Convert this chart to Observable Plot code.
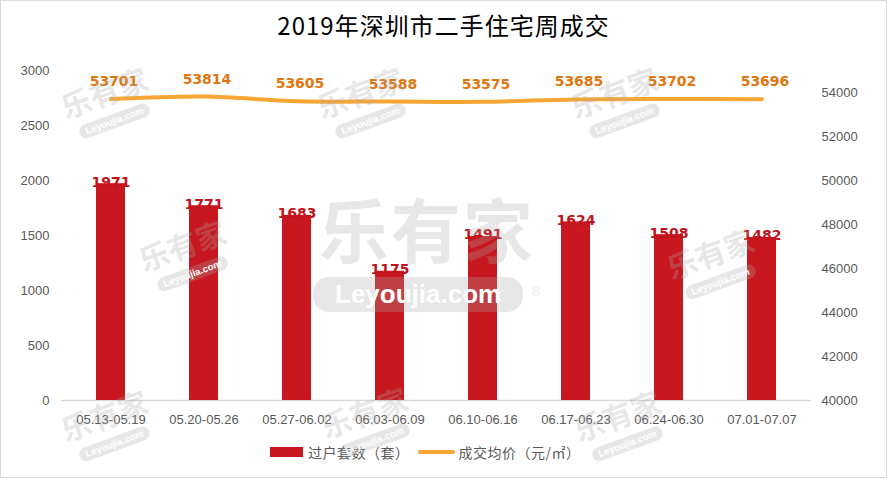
<!DOCTYPE html>
<html><head><meta charset="utf-8">
<script src="https://cdn.jsdelivr.net/npm/d3@7"></script>
<script src="https://cdn.jsdelivr.net/npm/@observablehq/plot@0.6"></script>
<style>
body{margin:0;background:#fff;}
#frame{position:relative;width:885px;height:476px;border:1px solid #d9d9d9;background:#fff;overflow:hidden;font-family:"Liberation Sans",Arial,sans-serif;}
#title{position:absolute;left:0;top:6px;width:885px;text-align:center;font-family:"Noto Sans CJK SC",sans-serif;font-size:24px;color:#000;letter-spacing:1px;}
#chart{position:absolute;left:0;top:45px;}
#legend{position:absolute;top:441px;left:269px;display:flex;align-items:center;font-family:"Noto Sans CJK SC",sans-serif;font-size:14px;color:#595959;letter-spacing:0.5px;}
.wm{position:absolute;pointer-events:none;text-align:center;color:rgba(170,170,170,0.28);font-family:"Noto Sans CJK SC",sans-serif;}
.pill{display:inline-block;background:rgba(170,170,170,0.28);color:#fff;border-radius:12px;font-family:"Liberation Sans",sans-serif;font-weight:bold;}
</style></head>
<body>
<div id="frame">
  <div id="title">2019年深圳市二手住宅周成交</div>
  <div id="chart"></div>
  <div id="legend">
    <span style="display:inline-block;width:33px;height:10px;background:#c8171e;margin-right:5px;"></span><span>过户套数（套）</span>
    <span style="display:inline-block;width:37px;height:4px;background:#f7a535;border-radius:2px;margin:0 4px 0 8px;"></span><span>成交均价（元/㎡）</span>
  </div>
</div>
<script>
const weeks = ["05.13-05.19","05.20-05.26","05.27-06.02","06.03-06.09","06.10-06.16","06.17-06.23","06.24-06.30","07.01-07.07"];
const deals = [1971,1771,1683,1175,1491,1624,1508,1482];
const prices = [53701,53814,53605,53588,53575,53685,53702,53696];
const leftTicks = [0,500,1000,1500,2000,2500,3000];
const rightTicks = [40000,42000,44000,46000,48000,50000,52000,54000];
const rightMin = 40000, rightPerLeft = 5; // right axis 40000-55000 shares range with left 0-3000

const rows = weeks.map((w,i)=>({week:w, deals:deals[i], price:prices[i], py:(prices[i]-rightMin)/rightPerLeft}));

const plot = Plot.plot({
  width: 885, height: 390,
  marginLeft: 60, marginRight: 75, marginTop: 24, marginBottom: 36,
  style: {fontFamily:"Liberation Sans, Arial, sans-serif", fontSize:"13px", color:"#595959", background:"transparent"},
  x: {domain: weeks, paddingInner: 0.69, paddingOuter: 0.345, label: null},
  y: {domain: [0,3000], label: null},
  marks: [
    Plot.ruleY([0], {stroke:"#d9d9d9", strokeWidth:1.5}),
    Plot.barY(rows, {x:"week", y:"deals", fill:"#c8171e"}),
    Plot.text(rows, {x:"week", y:"deals", text:d=>String(d.deals), fill:"#c0141c", fontWeight:"bold", fontSize:14, lineAnchor:"bottom", dy:3, fontFamily:"DejaVu Sans, sans-serif"}),
    Plot.line(rows, {x:"week", y:"py", stroke:"#f7a535", strokeWidth:4, curve:"catmull-rom"}),
    Plot.text(rows, {x:"week", y:"py", text:d=>String(d.price), fill:"#df760e", fontWeight:"bold", fontSize:14, lineAnchor:"bottom", dy:-13, dx:3, fontFamily:"DejaVu Sans, sans-serif"}),
    Plot.axisX({tickSize:0, tickPadding:14, fill:"#595959", fontSize:13}),
    Plot.axisY({ticks:leftTicks, tickFormat:d=>String(d), tickSize:0, tickPadding:12, anchor:"left", fill:"#595959", fontSize:13}),
    Plot.axisY({ticks:rightTicks.map(v=>(v-rightMin)/rightPerLeft), tickFormat:d=>String(rightMin+d*rightPerLeft), tickSize:0, tickPadding:10, anchor:"right", fill:"#595959", fontSize:13})
  ]
});
document.getElementById("chart").appendChild(plot);

// watermarks
const frame = document.getElementById("frame");
function wm(x,y,size,rot){
  const d=document.createElement("div");
  d.className="wm";
  d.style.left=x+"px"; d.style.top=y+"px";
  d.style.transform=`rotate(${rot}deg)`;
  d.innerHTML=`<div style="font-size:${size}px;line-height:1;font-weight:bold;">乐有家</div><div class="pill" style="font-size:${size*0.32}px;padding:${size*0.05}px ${size*0.2}px;margin-top:${size*0.05}px;">Leyoujia.com</div>`;
  frame.appendChild(d);
}
wm(62,75,30,-20); wm(318,75,30,-20); wm(572,75,30,-20);
wm(140,228,30,-20); wm(668,236,30,-20);
wm(62,398,30,-20); wm(322,395,30,-20); wm(575,398,30,-20);
const big=document.createElement("div");
big.className="wm";
big.style.left="312px"; big.style.top="192px";
big.innerHTML=`<div style="font-size:70px;line-height:1;font-weight:bold;letter-spacing:2px;">乐有家</div><div style="margin-top:14px;"><span class="pill" style="font-size:26px;padding:2px 22px;border-radius:16px;">Leyoujia.com</span><span style="font-size:20px;margin-left:8px;">®</span></div>`;
frame.appendChild(big);
</script>
</body></html>
